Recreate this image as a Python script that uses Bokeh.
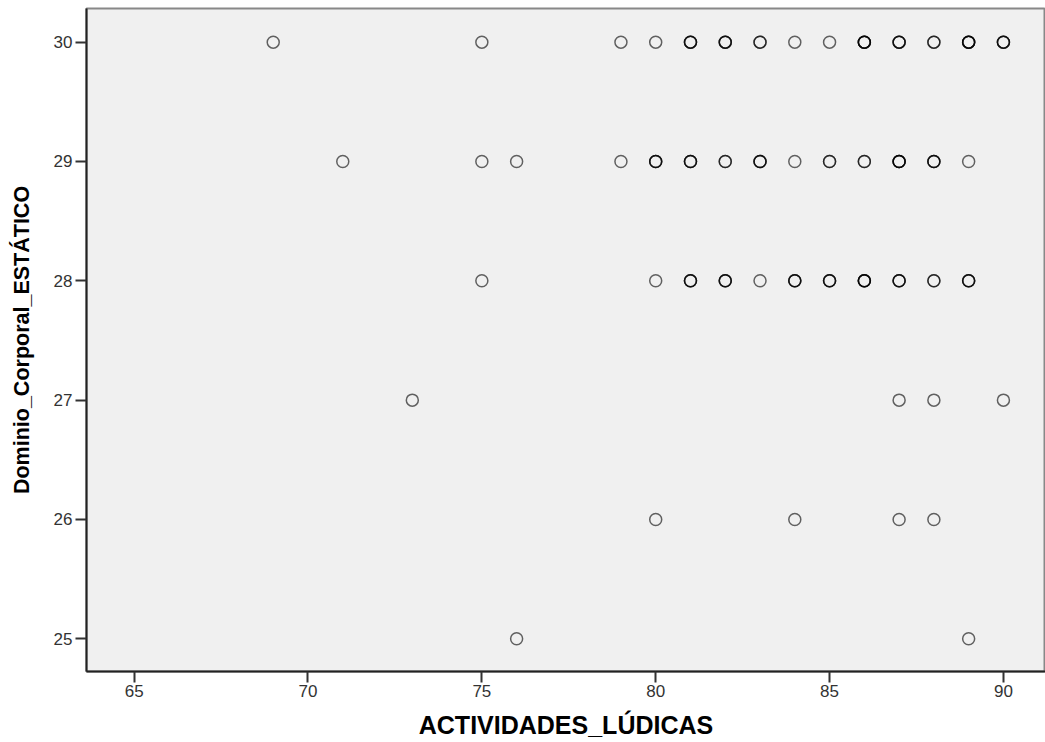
import numpy as np
from bokeh.plotting import figure
from bokeh.models import Range1d, FixedTicker, ColumnDataSource
from bokeh.embed import file_html
from bokeh.resources import INLINE

# ACTIVIDADES_LÚDICAS values per Dominio_Corporal_ESTÁTICO level, with observation counts
x30 = [69, 75, 79, 80, 81, 82, 83, 84, 85, 86, 87, 88, 89, 90]
n30 = [1, 1, 1, 1, 3, 3, 2, 1, 1, 4, 3, 2, 4, 3]
x29 = [71, 75, 76, 79, 80, 81, 82, 83, 84, 85, 86, 87, 88, 89]
n29 = [1, 1, 1, 1, 3, 3, 2, 3, 1, 2, 2, 4, 3, 1]
x28 = [75, 80, 81, 82, 83, 84, 85, 86, 87, 88, 89]
n28 = [1, 1, 3, 3, 1, 3, 3, 4, 3, 2, 3]
x27 = [73, 87, 88, 90]
n27 = [1, 1, 1, 1]
x26 = [80, 84, 87, 88]
n26 = [1, 1, 1, 1]
x25 = [76, 89]
n25 = [1, 1]

x_ticks = [65, 70, 75, 80, 85, 90]
y_ticks = [25, 26, 27, 28, 29, 30]

rows = [(30, x30, n30), (29, x29, n29), (28, x28, n28),
        (27, x27, n27), (26, x26, n26), (25, x25, n25)]
xs, ys = [], []
for yv, xl, nl in rows:
    rep = np.repeat(xl, nl)
    xs.extend(rep.tolist())
    ys.extend([yv] * len(rep))
src = ColumnDataSource(dict(x=xs, y=ys))

p = figure(width=1045, height=742, output_backend="svg", toolbar_location=None,
           x_range=Range1d(63.63, 91.21), y_range=Range1d(24.726, 30.282),
           min_border_left=86, min_border_right=0, min_border_top=8, min_border_bottom=71)
p.background_fill_color = "#F0F0F0"
p.border_fill_color = "white"
p.outline_line_color = "#888888"
p.outline_line_width = 2
p.grid.visible = False

p.scatter("x", "y", source=src, marker="circle", size=12, fill_color=None,
          line_color="black", line_alpha=0.6, line_width=1.5)

FONT = "Liberation Sans"
for ax, ticks in ((p.xaxis[0], x_ticks), (p.yaxis[0], y_ticks)):
    ax.ticker = FixedTicker(ticks=ticks)
    ax.minor_tick_line_color = None
    ax.major_tick_in = 0
    ax.major_tick_out = 11
    ax.major_tick_line_width = 2
    ax.major_tick_line_color = "#333333"
    ax.axis_line_color = "#222222"
    ax.axis_line_width = 2
    ax.major_label_text_font = FONT
    ax.major_label_text_font_size = "17px"
    ax.major_label_text_color = "#333333"
    ax.axis_label_text_font = FONT
    ax.axis_label_text_font_style = "bold"
    ax.axis_label_text_color = "black"

p.xaxis.major_label_standoff = 2
p.yaxis.major_label_standoff = 3
p.xaxis.axis_label = "ACTIVIDADES_LÚDICAS"
p.yaxis.axis_label = "Dominio_Corporal_ESTÁTICO"
p.xaxis.axis_label_text_font_size = "25px"
p.yaxis.axis_label_text_font_size = "21.5px"
p.xaxis.axis_label_standoff = 11
p.yaxis.axis_label_standoff = 17
p.yaxis.major_label_orientation = "horizontal"

open("out.html", "w").write(file_html(p, INLINE))
